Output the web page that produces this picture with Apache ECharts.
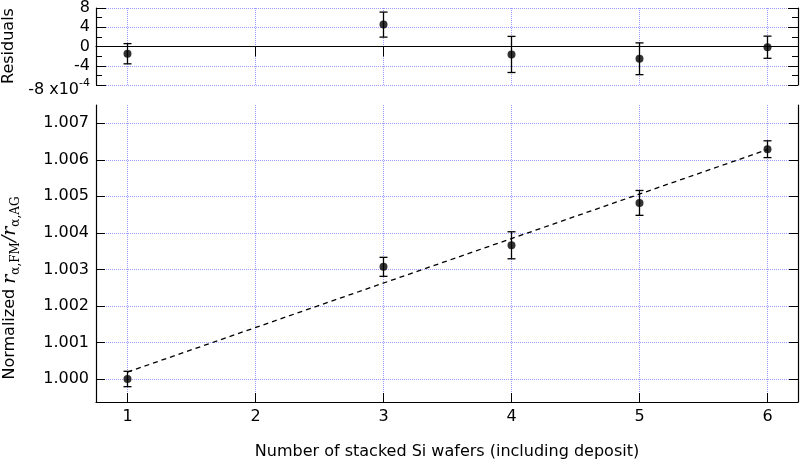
<!DOCTYPE html>
<html>
<head>
<meta charset="utf-8">
<script src="https://cdn.jsdelivr.net/npm/echarts@6/dist/echarts.min.js"></script>
<style>
  html, body { margin: 0; padding: 0; background: #fff; }
  #chart { width: 800px; height: 465px; }
</style>
</head>
<body>
<div id="chart"></div>
<script>
// number of stacked wafers
const wafers = [1, 3, 4, 5, 6]
// normalized ratio and its uncertainty
const ratio = [1.0000, 1.00307, 1.00366, 1.00482, 1.00629]
const ratioErr = [0.00021, 0.00026, 0.00037, 0.00034, 0.00023]
// residuals (x1e-4) and uncertainty
const resid = [-1.5, 4.55, -1.65, -2.55, -0.15]
const residErr = [2.1, 2.6, 3.75, 3.3, 2.3]
// linear fit end points
const fitX = [1, 6]
const fitY = [1.00019, 1.00628]
// ticks
const xTicks = [1, 2, 3, 4, 5, 6]
const yTicks = [1.000, 1.001, 1.002, 1.003, 1.004, 1.005, 1.006, 1.007]

const font = 'DejaVu Sans'
const black = '#000'
const gridLine = { show: true, lineStyle: { color: '#9c9cff', type: 'dotted', width: 1 } }
// x range chosen so that integer wafers fall on pixel centres
const xMin = 0.75390625
const xMax = 6.23828125

function errorBars(params, api) {
  const x = api.value(0)
  const y = api.value(1)
  const e = api.value(2)
  const hi = api.coord([x, y + e])
  const lo = api.coord([x, y - e])
  const w = 4
  const style = { stroke: black, lineWidth: 1.3 }
  return {
    type: 'group',
    children: [
      { type: 'line', shape: { x1: hi[0], y1: hi[1], x2: lo[0], y2: lo[1] }, style },
      { type: 'line', shape: { x1: hi[0] - w, y1: hi[1], x2: hi[0] + w, y2: hi[1] }, style },
      { type: 'line', shape: { x1: lo[0] - w, y1: lo[1], x2: lo[0] + w, y2: lo[1] }, style }
    ]
  }
}

const residData = wafers.map((x, i) => [x, resid[i], residErr[i]])
const ratioData = wafers.map((x, i) => [x, ratio[i], ratioErr[i]])
const fitData = fitX.map((x, i) => [x, fitY[i]])

const axisLine = { show: true, lineStyle: { color: black, width: 1.2 } }

const option = {
  animation: false,
  textStyle: { fontFamily: font },
  grid: [
    { left: 96, right: 2, top: 7, height: 78 },
    { left: 96, right: 2, top: 105, bottom: 62 }
  ],
  xAxis: [
    {
      gridIndex: 0,
      type: 'value',
      position: 'top',
      offset: 6,
      min: xMin,
      max: xMax,
      axisLine: axisLine,
      axisTick: { show: true, inside: true, length: 10, customValues: xTicks, lineStyle: { color: black } },
      axisLabel: { show: false },
      splitLine: gridLine
    },
    {
      gridIndex: 1,
      type: 'value',
      position: 'bottom',
      min: xMin,
      max: xMax,
      axisLine: axisLine,
      axisTick: { show: true, inside: true, length: 9, customValues: xTicks, lineStyle: { color: black } },
      axisLabel: {
        customValues: xTicks,
        color: black,
        fontSize: 16,
        fontFamily: font,
        margin: 7,
        formatter: v => String(Math.round(v))
      },
      splitLine: gridLine,
      name: 'Number of stacked Si wafers (including deposit)',
      nameLocation: 'middle',
      nameGap: 42,
      nameTextStyle: { color: black, fontSize: 16, fontFamily: font }
    }
  ],
  yAxis: [
    {
      gridIndex: 0,
      type: 'value',
      min: -8,
      max: 8,
      interval: 4,
      axisLine: axisLine,
      axisTick: { show: true, inside: true, length: 10, lineStyle: { color: black } },
      minorTick: { show: true, splitNumber: 2, length: 6, lineStyle: { color: black } },
      axisLabel: {
        color: black,
        fontSize: 16,
        fontFamily: font,
        margin: 6,
        formatter: v => (v === -8 ? '{n|-8 x10}{sup|-4}' : String(v)),
        rich: {
          n: { fontSize: 16, fontFamily: font, color: black, padding: [10, 0, 0, 0] },
          sup: { fontSize: 11, fontFamily: font, color: black, padding: [0, 0, 4, 0] }
        }
      },
      splitLine: gridLine
    },
    {
      gridIndex: 0,
      type: 'value',
      position: 'right',
      min: -8,
      max: 8,
      interval: 4,
      axisLine: axisLine,
      axisTick: { show: true, inside: true, length: 10, lineStyle: { color: black } },
      minorTick: { show: true, splitNumber: 2, length: 6, lineStyle: { color: black } },
      axisLabel: { show: false },
      splitLine: { show: false }
    },
    {
      gridIndex: 1,
      type: 'value',
      min: 0.99937,
      max: 1.0075,
      axisLine: axisLine,
      axisTick: { show: true, inside: true, length: 9, customValues: yTicks, lineStyle: { color: black } },
      axisLabel: {
        customValues: yTicks,
        color: black,
        fontSize: 16,
        fontFamily: font,
        margin: 7,
        formatter: v => v.toFixed(3)
      },
      splitLine: gridLine
    },
    {
      gridIndex: 1,
      type: 'value',
      position: 'right',
      min: 0.99937,
      max: 1.0075,
      axisLine: axisLine,
      axisTick: { show: true, inside: true, length: 9, customValues: yTicks, lineStyle: { color: black } },
      axisLabel: { show: false },
      splitLine: { show: false }
    }
  ],
  graphic: [
    {
      type: 'text',
      x: 9,
      y: 46,
      rotation: Math.PI / 2,
      style: { text: 'Residuals', font: '16px "DejaVu Sans"', fill: black, align: 'center', verticalAlign: 'middle' }
    },
    {
      type: 'text',
      x: 10,
      y: 288,
      rotation: Math.PI / 2,
      style: {
        text: '{a|Normalized }{r|r}{s|α,FM}{r|/r}{s|α,AG}',
        align: 'center',
        verticalAlign: 'middle',
        fill: black,
        rich: {
          a: { fontSize: 16, fontFamily: font, fill: black },
          r: { fontSize: 19, fontFamily: 'DejaVu Serif', fontStyle: 'italic', fill: black },
          s: { fontSize: 12, fontFamily: 'DejaVu Serif', fill: black, padding: [12, 0, 0, 0] }
        }
      }
    }
  ],
  series: [
    {
      name: 'residual',
      type: 'scatter',
      xAxisIndex: 0,
      yAxisIndex: 0,
      symbol: 'circle',
      symbolSize: 8,
      itemStyle: { color: black },
      data: residData,
      z: 5,
      markLine: {
        silent: true,
        symbol: 'none',
        label: { show: false },
        lineStyle: { color: black, type: 'solid', width: 1.2 },
        data: [{ yAxis: 0 }]
      }
    },
    {
      type: 'custom',
      xAxisIndex: 0,
      yAxisIndex: 0,
      renderItem: errorBars,
      data: residData,
      z: 4
    },
    {
      name: 'fit',
      type: 'line',
      xAxisIndex: 1,
      yAxisIndex: 2,
      symbol: 'none',
      lineStyle: { color: black, width: 1.3, type: [5, 4] },
      data: fitData,
      z: 3
    },
    {
      type: 'custom',
      xAxisIndex: 1,
      yAxisIndex: 2,
      renderItem: errorBars,
      data: ratioData,
      z: 4
    },
    {
      name: 'ratio',
      type: 'scatter',
      xAxisIndex: 1,
      yAxisIndex: 2,
      symbol: 'circle',
      symbolSize: 8,
      itemStyle: { color: black },
      data: ratioData,
      z: 5
    }
  ]
}

const chart = echarts.init(document.getElementById('chart'))
chart.setOption(option)
window.addEventListener('resize', () => chart.resize())
</script>
</body>
</html>
